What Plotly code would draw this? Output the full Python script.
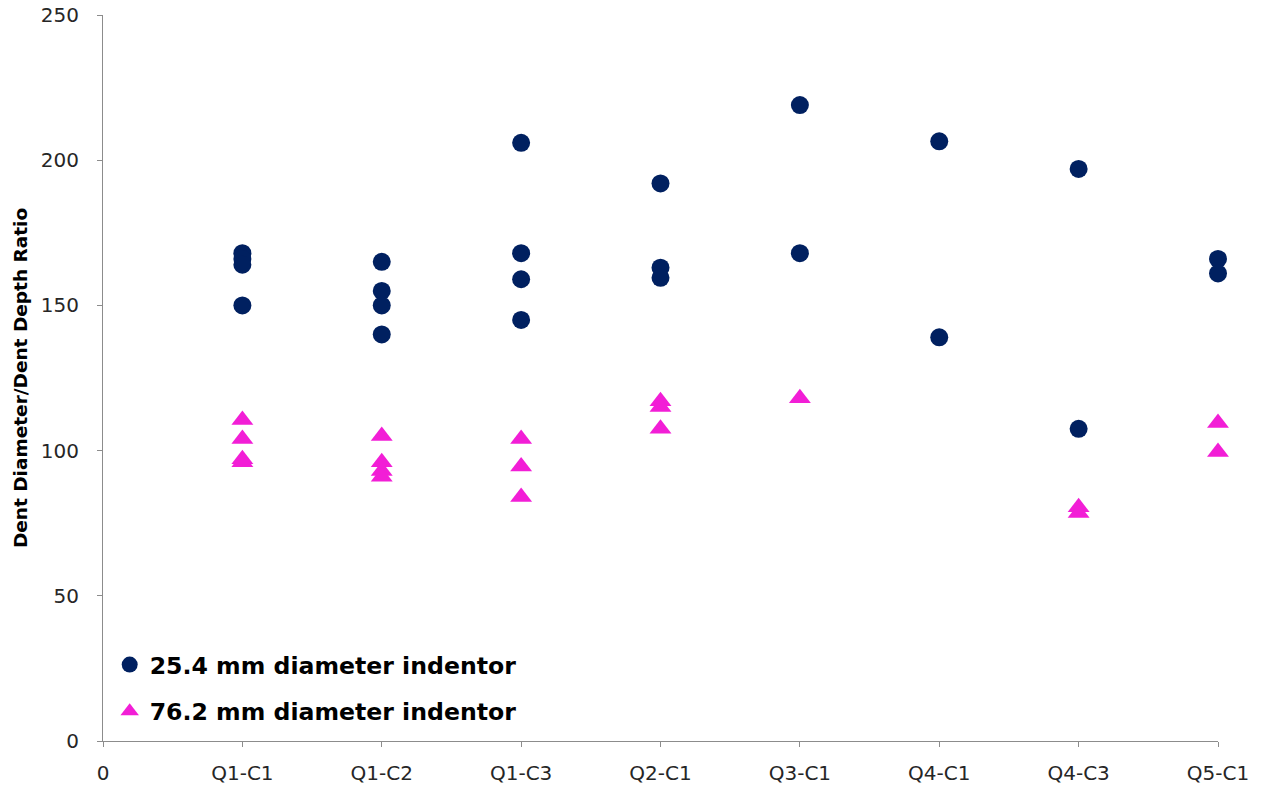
import plotly.graph_objects as go

# Test locations along the x axis (position 0 is left unlabelled except for "0")
categories = ["Q1-C1", "Q1-C2", "Q1-C3", "Q2-C1", "Q3-C1", "Q4-C1", "Q4-C3", "Q5-C1"]
tick_labels = ["0"] + categories

# 25.4 mm indentor results
small_loc = ["Q1-C1", "Q1-C1", "Q1-C1", "Q1-C1",
             "Q1-C2", "Q1-C2", "Q1-C2", "Q1-C2",
             "Q1-C3", "Q1-C3", "Q1-C3", "Q1-C3",
             "Q2-C1", "Q2-C1", "Q2-C1",
             "Q3-C1", "Q3-C1",
             "Q4-C1", "Q4-C1",
             "Q4-C3", "Q4-C3",
             "Q5-C1", "Q5-C1"]
small_ratio = [168, 166, 164, 150,
               165, 155, 150, 140,
               206, 168, 159, 145,
               192, 163, 159.5,
               219, 168,
               206.5, 139,
               197, 107.5,
               166, 161]

# 76.2 mm indentor results
large_loc = ["Q1-C1", "Q1-C1", "Q1-C1", "Q1-C1",
             "Q1-C2", "Q1-C2", "Q1-C2", "Q1-C2",
             "Q1-C3", "Q1-C3", "Q1-C3",
             "Q2-C1", "Q2-C1", "Q2-C1",
             "Q3-C1",
             "Q4-C3", "Q4-C3",
             "Q5-C1", "Q5-C1"]
large_ratio = [110.5, 104, 97, 96,
               105, 96, 93, 91,
               104, 94.5, 84,
               117, 115, 107.5,
               118,
               80.5, 78.5,
               109.5, 99.5]


def positions(locs):
    return [categories.index(c) + 1 for c in locs]


fig = go.Figure()
fig.add_trace(go.Scatter(
    x=positions(small_loc), y=small_ratio, mode="markers",
    name="25.4 mm diameter indentor", legendgroup="a", cliponaxis=False,
    marker=dict(symbol="circle", size=18, color="#002060"),
))
fig.add_trace(go.Scatter(
    x=positions(large_loc), y=large_ratio, mode="markers",
    name="76.2 mm diameter indentor", legendgroup="b", cliponaxis=False,
    marker=dict(symbol="triangle-up", size=19, color="#F21ED6"),
))

axis_common = dict(
    showgrid=False, zeroline=False, showline=True, automargin=False,
    linecolor="#8C8C8C", linewidth=1,
    ticks="outside", tickcolor="#8C8C8C", ticklen=5, tickwidth=1,
    tickfont=dict(family="DejaVu Sans", size=20, color="#262626"),
)

fig.update_xaxes(
    range=[0, 8], tickmode="array",
    tickvals=list(range(len(tick_labels))), ticktext=tick_labels,
    ticklabelstandoff=9, **axis_common,
)
fig.update_yaxes(
    range=[0, 250], tickmode="array", tickvals=[0, 50, 100, 150, 200, 250],
    ticklabelstandoff=14,
    title=dict(text="Dent Diameter/Dent Depth Ratio",
               font=dict(family="DejaVu Sans", size=18.5, color="#000000", weight="bold"),
               standoff=8),
    **axis_common,
)

fig.update_layout(
    width=1262, height=788,
    margin=dict(l=103, r=44, t=15, b=47),
    plot_bgcolor="white", paper_bgcolor="white",
    showlegend=True,
    legend=dict(
        x=0.006, y=0.01, xanchor="left", yanchor="bottom",
        bgcolor="rgba(0,0,0,0)", tracegroupgap=13,
        font=dict(family="DejaVu Sans", size=23.6, color="#000000", weight="bold"),
    ),
)

fig.write_html("out.html")
